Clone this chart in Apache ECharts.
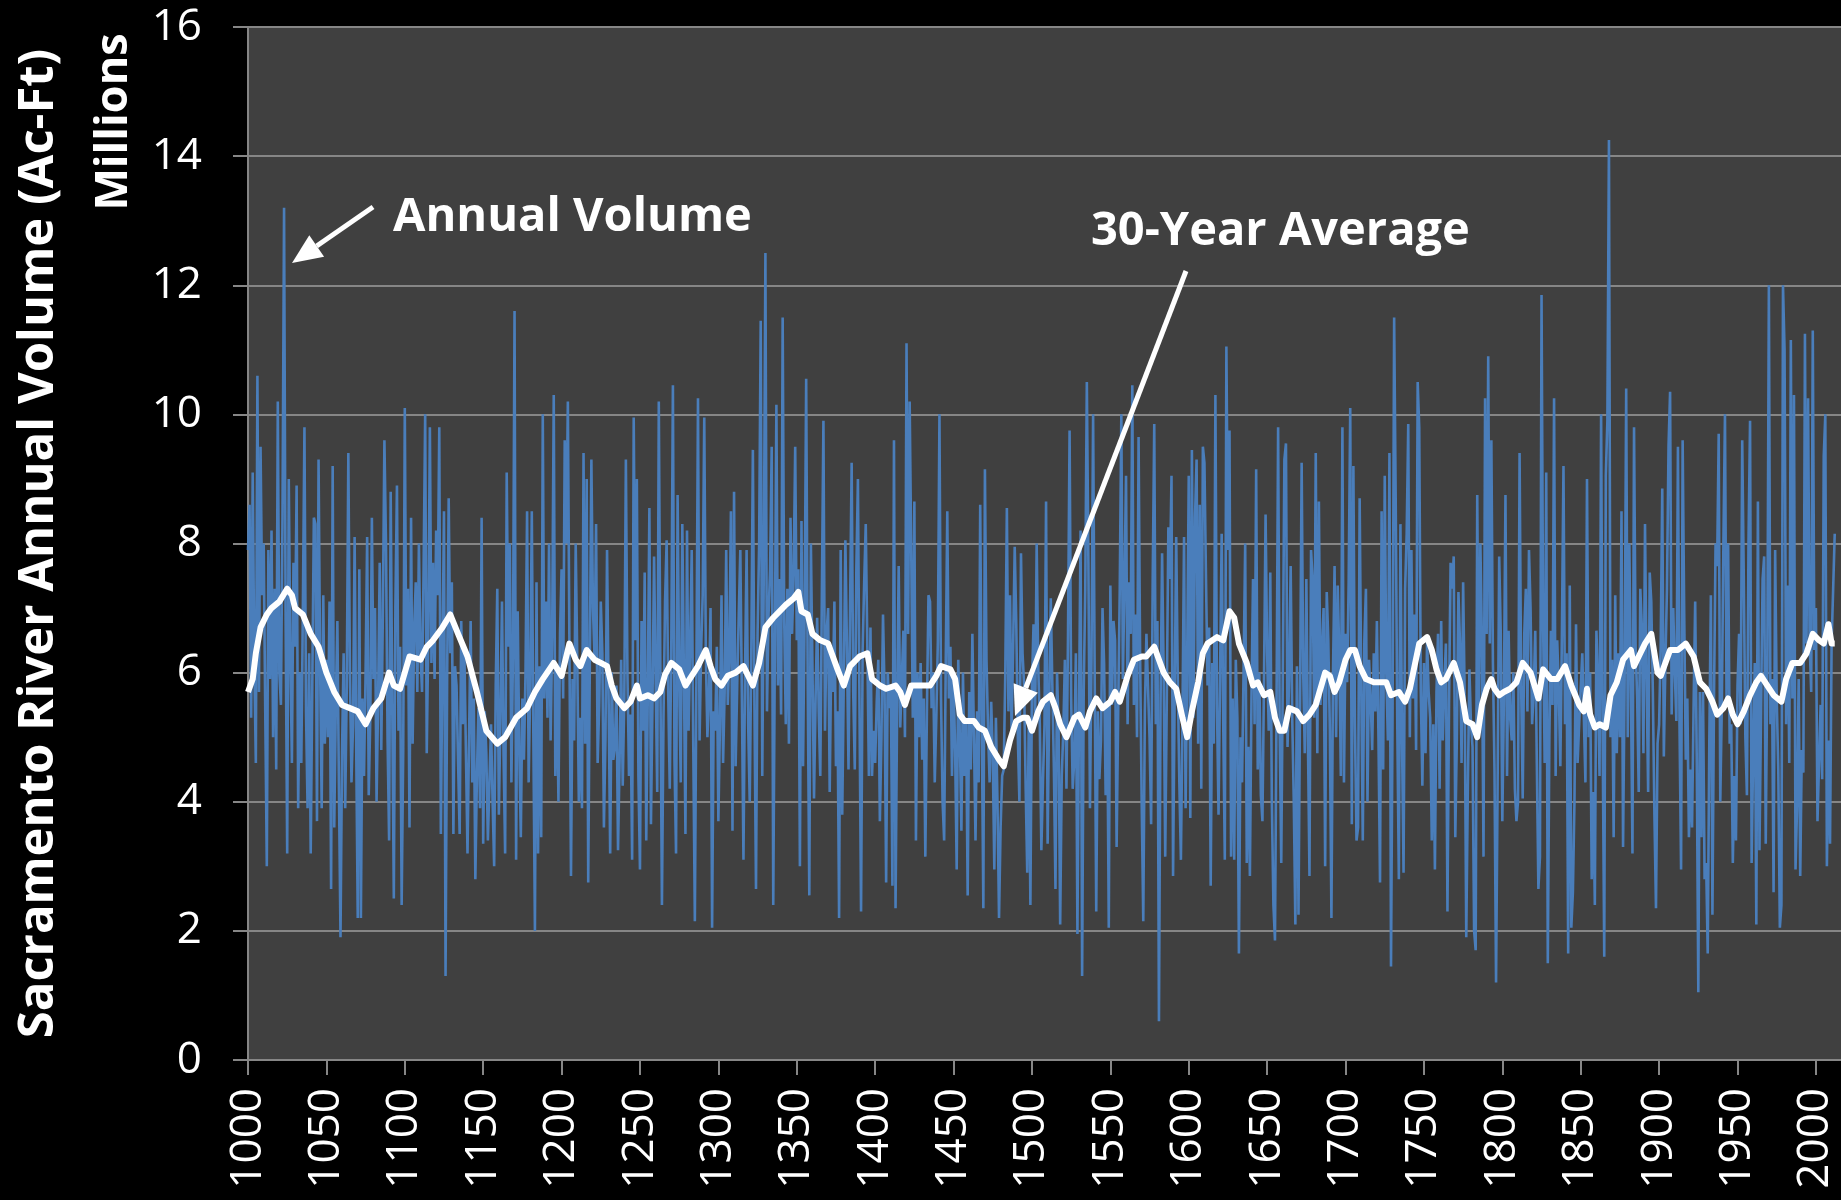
<!DOCTYPE html>
<html>
<head>
<meta charset="utf-8">
<title>Sacramento River Annual Volume</title>
<script src="https://cdn.jsdelivr.net/npm/echarts@6/dist/echarts.min.js"></script>
<style>
  html, body { margin: 0; padding: 0; background: #000; }
  #chart { width: 1841px; height: 1200px; }
</style>
</head>
<body>
<div id="chart"></div>
<script>
// annual volume, millions of acre-feet, one value per year
const vol1000 = [
  7.9, 8.6, 5.3, 9.1, 6.2, 4.6, 10.6, 5.7, 9.5, 7.2,
  8.0, 5.4, 3.0, 7.9, 5.9, 8.2, 5.0, 7.3, 4.5, 10.2,
  6.0, 5.5, 8.4, 13.2, 6.8, 3.2, 9.0, 6.3, 4.6, 7.7,
  6.4, 8.9, 3.9, 6.0, 4.6, 7.0, 9.8, 5.4, 3.9, 6.3,
  3.2, 5.8, 8.4, 8.3, 3.7, 9.3, 6.1, 3.9, 7.2, 4.9,
  6.2, 5.0, 7.1, 2.65, 9.2, 3.6, 5.5, 6.8, 4.2, 1.9,
  4.8, 6.3, 3.9, 5.8, 9.4, 6.0, 4.3, 5.2, 8.1, 4.9,
  2.2, 7.6, 2.2, 5.6, 4.4, 6.0, 8.1, 4.1, 5.3, 8.4,
  5.9, 7.0, 4.0, 5.6, 7.7, 4.8, 6.9, 9.6, 8.0, 5.0,
  3.4, 8.8, 5.5, 2.5, 7.0, 8.9, 5.1, 6.4, 2.4, 4.8
];
const vol1100 = [
  10.1, 5.8, 7.3, 3.6, 8.4, 4.9, 6.7, 7.4, 5.7, 8.0,
  6.3, 5.7, 7.6, 10.0, 4.75, 6.6, 9.8, 6.15, 7.7, 5.9,
  8.2, 7.2, 9.8, 3.5, 6.2, 8.5, 1.3, 5.9, 8.7, 6.3,
  7.4, 3.5, 6.1, 5.8, 4.6, 3.5, 6.8, 5.2, 6.3, 4.75,
  3.2, 5.0, 6.8, 4.3, 5.6, 2.8, 4.4, 5.45, 3.9, 8.4,
  3.35, 5.4, 4.75, 3.4, 4.3, 5.2, 4.0, 3.0, 5.8, 7.3,
  3.8, 5.3, 7.1, 4.7, 3.2, 9.1, 6.4, 8.0, 4.3, 6.3,
  11.6, 3.1, 6.95, 4.85, 3.45, 5.6, 4.65, 6.0, 8.5, 4.3,
  5.8, 8.5, 5.0, 2.0, 7.4, 3.2, 6.1, 3.45, 10.0, 5.6,
  7.1, 5.3, 8.0, 4.95, 6.6, 10.3, 4.4, 6.0, 4.0, 6.6
];
const vol1200 = [
  7.6, 5.6, 9.6, 8.0, 10.2, 6.4, 2.85, 5.9, 4.95, 8.0,
  6.2, 4.0, 5.3, 3.9, 9.4, 4.9, 9.0, 2.75, 6.1, 9.3,
  7.0, 6.25, 8.3, 4.6, 5.5, 7.1, 6.3, 3.6, 5.0, 7.9,
  5.6, 3.2, 6.0, 4.65, 4.85, 5.8, 3.25, 4.65, 6.2, 4.25,
  5.6, 9.3, 6.0, 4.4, 5.35, 3.1, 9.95, 6.5, 9.0, 4.4,
  2.95, 6.8, 5.1, 7.55, 3.4, 5.7, 8.55, 3.65, 5.6, 7.8,
  5.9, 4.15, 10.2, 6.0, 2.4, 5.3, 7.1, 8.05, 5.7, 4.2,
  6.5, 10.45, 4.65, 3.2, 8.75, 5.9, 4.3, 8.3, 6.0, 3.5,
  8.2, 5.1, 6.4, 7.9, 4.85, 2.15, 6.0, 10.25, 4.95, 6.35,
  7.2, 9.95, 6.3, 5.0, 5.65, 7.0, 2.05, 5.4, 5.1, 6.4
];
const vol1300 = [
  3.7, 5.2, 7.2, 4.6, 5.7, 7.9, 5.5, 6.3, 8.5, 3.55,
  8.8, 4.55, 5.8, 6.9, 7.9, 5.6, 3.1, 6.0, 7.9, 5.2,
  4.0, 6.3, 9.45, 5.5, 2.65, 6.6, 8.0, 11.45, 4.4, 7.7,
  12.5, 5.4, 6.9, 7.6, 9.5, 2.4, 6.3, 10.15, 5.8, 7.45,
  5.35, 11.5, 6.8, 5.2, 7.3, 4.9, 8.4, 6.6, 7.5, 9.5,
  6.5, 7.6, 3.0, 8.35, 4.55, 6.9, 10.55, 5.8, 2.55, 8.0,
  6.1, 4.05, 5.6, 6.85, 5.4, 4.4, 7.2, 9.9, 5.1, 6.6,
  7.0, 4.15, 6.3, 5.7, 7.1, 4.55, 5.4, 2.2, 7.9, 3.8,
  5.9, 8.05, 6.4, 4.5, 7.0, 9.25, 5.7, 4.5, 7.6, 9.0,
  5.5, 2.3, 6.35, 7.4, 8.3, 6.4, 4.4, 6.7, 4.4, 5.1
];
const vol1400 = [
  4.6, 5.55, 6.2, 3.7, 5.0, 6.9, 5.7, 2.75, 6.0, 5.45,
  5.8, 2.7, 9.6, 2.35, 5.5, 7.65, 5.15, 5.9, 6.65, 5.0,
  11.1, 6.6, 10.2, 7.9, 5.3, 8.65, 3.4, 6.0, 5.0, 6.15,
  4.65, 5.6, 3.15, 5.4, 7.2, 7.1, 5.45, 6.0, 4.3, 5.3,
  6.5, 10.0, 5.6, 4.0, 3.4, 6.1, 8.5, 5.6, 6.4, 4.4,
  5.9, 4.8, 2.95, 6.2, 5.0, 3.55, 6.0, 4.4, 5.3, 2.55,
  5.7, 4.5, 6.6, 5.0, 3.4, 5.4, 4.3, 8.6, 5.2, 2.35,
  9.15, 6.2, 5.1, 4.3, 5.55, 4.7, 2.95, 5.3, 4.0, 2.2,
  3.6, 4.4, 4.5, 6.0, 8.55, 5.4, 7.2, 5.1, 6.4, 7.95,
  6.75, 5.0, 4.0, 7.85, 6.3, 5.8, 4.2, 2.9, 5.3, 2.4
];
const vol1500 = [
  5.8, 6.75, 5.2, 8.0, 6.1, 5.2, 3.25, 4.3, 5.2, 8.65,
  3.35, 5.5, 7.15, 5.8, 4.5, 2.65, 6.0, 5.1, 2.1, 4.4,
  5.1, 6.2, 4.2, 6.6, 9.75, 5.6, 4.2, 4.65, 6.3, 1.95,
  5.4, 8.2, 1.3, 5.7, 7.3, 10.5, 7.7, 3.9, 6.3, 10.0,
  6.0, 2.3, 5.4, 4.35, 4.95, 7.0, 6.15, 4.1, 5.5, 2.05,
  7.35, 5.5, 6.8, 6.5, 3.3, 5.4, 7.3, 10.0, 5.9, 7.35,
  9.05, 5.2, 7.4, 6.6, 10.45, 5.5, 6.9, 5.0, 9.65, 6.2,
  3.95, 2.15, 5.4, 6.6, 6.6, 5.0, 3.65, 7.4, 9.85, 5.2,
  6.8, 0.6, 5.5, 7.85, 6.0, 3.15, 5.6, 8.25, 7.45, 9.05,
  2.85, 5.6, 8.1, 5.9, 4.3, 3.1, 5.3, 8.1, 3.9, 6.2
];
const vol1600 = [
  9.05, 3.75, 9.45, 5.3, 8.4, 9.3, 4.9, 8.6, 4.2, 9.5,
  9.25, 7.45, 5.8, 6.7, 2.7, 6.15, 4.9, 10.3, 5.5, 3.8,
  6.0, 8.15, 5.2, 3.1, 11.05, 7.9, 9.75, 3.15, 5.6, 3.1,
  6.2, 5.3, 1.65, 5.0, 4.3, 6.1, 8.0, 3.05, 4.85, 2.85,
  5.6, 7.45, 5.2, 9.15, 4.5, 6.0, 4.1, 3.7, 5.9, 8.45,
  6.3, 5.1, 7.55, 4.0, 2.4, 1.85, 5.5, 9.8, 5.1, 3.05,
  6.0, 9.3, 9.55, 4.85, 5.9, 7.65, 5.3, 4.0, 2.1, 6.1,
  2.25, 5.6, 9.25, 6.0, 4.75, 7.45, 5.0, 2.85, 7.9, 7.45,
  5.3, 9.4, 4.75, 8.65, 5.5, 6.35, 7.0, 3.0, 7.25, 6.5,
  5.1, 2.2, 6.0, 7.65, 5.0, 7.35, 6.3, 4.4, 9.8, 4.3
];
const vol1700 = [
  6.6, 5.85, 7.4, 10.1, 3.65, 9.2, 5.2, 3.4, 3.6, 8.7,
  5.8, 3.4, 6.5, 7.3, 4.0, 6.2, 5.6, 4.8, 6.3, 5.4,
  6.8, 5.0, 2.75, 8.5, 4.5, 9.05, 6.0, 4.95, 9.4, 1.45,
  5.4, 11.5, 8.65, 5.2, 2.8, 8.3, 5.0, 2.9, 7.3, 8.15,
  9.85, 5.0, 7.9, 5.6, 6.9, 4.8, 10.5, 9.8, 5.7, 4.25,
  6.15, 4.75, 6.5, 5.7, 5.3, 3.4, 5.2, 2.95, 5.7, 6.6,
  4.2, 6.8, 4.95, 5.8, 6.45, 2.3, 5.5, 7.7, 7.3, 7.8,
  3.45, 5.0, 7.25, 6.45, 4.6, 7.4, 5.6, 1.9, 4.2, 6.05,
  5.2, 4.85, 2.0, 1.7, 8.75, 5.1, 8.0, 6.45, 3.15, 10.25,
  6.6, 10.9, 6.45, 9.6, 6.15, 4.5, 1.2, 4.3, 7.8, 6.6
];
const vol1800 = [
  3.7, 5.6, 8.75, 4.4, 6.65, 5.3, 4.95, 6.0, 4.2, 3.7,
  4.0, 9.4, 5.8, 4.05, 6.6, 7.3, 5.4, 7.9, 7.0, 5.2,
  5.7, 6.65, 4.6, 2.65, 3.15, 11.85, 6.8, 4.6, 9.1, 1.5,
  5.0, 6.65, 5.5, 10.25, 4.4, 6.5, 5.75, 4.55, 6.6, 9.2,
  5.2, 6.3, 1.65, 7.35, 2.05, 2.6, 4.0, 6.75, 4.6, 5.2,
  5.2, 6.3, 5.3, 4.3, 9.0, 5.0, 6.0, 2.8, 4.15, 2.4,
  6.65, 5.85, 4.4, 10.0, 5.0, 1.6, 9.05, 9.9, 14.25, 5.0,
  6.2, 3.45, 7.2, 4.75, 6.3, 5.0, 8.5, 3.3, 5.9, 10.4,
  5.0, 8.0, 5.8, 3.2, 9.8, 6.4, 5.6, 4.15, 7.3, 6.7,
  4.75, 8.3, 5.9, 4.15, 7.55, 7.1, 5.7, 3.8, 2.35, 4.9
];
const vol1900 = [
  5.2, 6.4, 8.85, 4.7, 6.15, 7.3, 9.5, 10.35, 5.35, 7.0,
  6.0, 5.25, 9.5, 5.2, 2.95, 9.6, 6.9, 4.65, 5.6, 3.45,
  4.5, 3.6, 5.5, 7.1, 4.65, 1.05, 5.7, 3.45, 5.7, 2.8,
  3.05, 1.65, 4.9, 7.2, 2.25, 5.6, 8.0, 7.65, 9.7, 4.0,
  5.5, 8.0, 10.0, 5.6, 8.0, 4.9, 5.2, 3.05, 4.4, 3.4,
  5.8, 6.6, 5.2, 9.6, 7.45, 5.0, 4.1, 8.0, 9.9, 3.05,
  4.8, 6.15, 2.1, 8.65, 3.25, 5.4, 7.45, 7.8, 3.35, 6.1,
  12.0, 5.2, 5.9, 2.6, 7.9, 5.6, 4.5, 2.05, 2.4, 12.0,
  11.0, 5.2, 7.35, 4.6, 11.15, 5.6, 10.3, 2.95, 3.95, 5.9,
  2.85, 4.8, 4.45, 11.25, 6.45, 10.25, 6.45, 5.7, 11.3, 6.35
];
const vol2000 = [7.0, 3.7, 3.7, 5.5, 4.35, 9.35, 10.0, 3.0, 4.95, 3.35, 6.45, 7.3, 8.15];

// 30-year average, [year, value]
const avg1000 = [
  [1000, 5.7], [1003, 5.9], [1005, 6.3], [1008, 6.7], [1012, 6.9], [1015, 7.0], [1020, 7.1],
  [1025, 7.3], [1028, 7.2], [1030, 7.0], [1035, 6.9], [1040, 6.6], [1045, 6.4], [1050, 6.0],
  [1055, 5.7], [1060, 5.5], [1065, 5.45], [1070, 5.4], [1075, 5.2], [1080, 5.45], [1085, 5.6],
  [1090, 6.0], [1093, 5.8], [1097, 5.75]
];
const avg1100 = [
  [1100, 6.0], [1103, 6.25], [1110, 6.2], [1114, 6.4], [1118, 6.5], [1124, 6.7], [1129, 6.9],
  [1134, 6.6], [1140, 6.25], [1146, 5.7], [1152, 5.1], [1159, 4.9], [1164, 5.0], [1171, 5.3],
  [1178, 5.45], [1183, 5.7], [1188, 5.9], [1195, 6.15]
];
const avg1200 = [
  [1200, 5.95], [1205, 6.45], [1209, 6.2], [1212, 6.1], [1216, 6.35], [1221, 6.2], [1225, 6.15],
  [1229, 6.1], [1232, 5.8], [1235, 5.6], [1240, 5.45], [1244, 5.55], [1248, 5.8], [1250, 5.6],
  [1255, 5.65], [1259, 5.6], [1263, 5.7], [1266, 5.97], [1270, 6.15], [1275, 6.05], [1279, 5.8],
  [1283, 5.95], [1287, 6.1], [1292, 6.35], [1295, 6.1], [1298, 5.9]
];
const avg1300 = [
  [1300, 5.85], [1302, 5.8], [1306, 5.95], [1311, 6.0], [1316, 6.1], [1322, 5.8], [1326, 6.15],
  [1330, 6.7], [1335, 6.85], [1339, 6.95], [1343, 7.05], [1348, 7.15], [1351, 7.25], [1353, 6.95],
  [1357, 6.9], [1360, 6.6], [1365, 6.5], [1370, 6.45], [1373, 6.25], [1376, 6.05], [1380, 5.8],
  [1384, 6.1], [1390, 6.25], [1395, 6.3], [1398, 5.9]
];
const avg1400 = [
  [1403, 5.8], [1407, 5.75], [1413, 5.8], [1416, 5.7], [1419, 5.5], [1423, 5.8], [1429, 5.8],
  [1435, 5.8], [1439, 5.95], [1442, 6.1], [1448, 6.05], [1451, 5.9], [1454, 5.35], [1457, 5.25],
  [1463, 5.25], [1466, 5.15], [1470, 5.1], [1474, 4.85], [1479, 4.65], [1482, 4.55], [1486, 4.95],
  [1490, 5.25], [1494, 5.3], [1497, 5.3]
];
const avg1500 = [
  [1500, 5.1], [1504, 5.4], [1507, 5.55], [1512, 5.65], [1515, 5.45], [1518, 5.2], [1522, 5.0],
  [1527, 5.3], [1530, 5.35], [1534, 5.15], [1537, 5.4], [1541, 5.6], [1545, 5.45], [1550, 5.55],
  [1553, 5.7], [1556, 5.55], [1561, 5.95], [1565, 6.2], [1570, 6.25], [1573, 6.25], [1578, 6.4],
  [1581, 6.2], [1584, 6.0], [1588, 5.85], [1592, 5.75], [1596, 5.3], [1599, 5.0]
];
const avg1600 = [
  [1602, 5.4], [1606, 5.85], [1609, 6.3], [1612, 6.45], [1618, 6.55], [1622, 6.5], [1626, 6.95],
  [1629, 6.85], [1632, 6.45], [1637, 6.15], [1641, 5.8], [1644, 5.85], [1648, 5.65], [1652, 5.7],
  [1655, 5.3], [1658, 5.1], [1661, 5.1], [1664, 5.45], [1669, 5.4], [1673, 5.25], [1677, 5.35],
  [1681, 5.5], [1687, 6.0], [1690, 5.95], [1693, 5.7], [1696, 5.85]
];
const avg1700 = [
  [1700, 6.2], [1703, 6.35], [1706, 6.35], [1709, 6.1], [1713, 5.9], [1718, 5.85], [1722, 5.85],
  [1726, 5.85], [1729, 5.65], [1734, 5.7], [1738, 5.55], [1741, 5.75], [1744, 6.1], [1747, 6.45],
  [1752, 6.55], [1755, 6.35], [1758, 6.05], [1761, 5.85], [1764, 5.9], [1769, 6.15], [1773, 5.85],
  [1777, 5.25], [1781, 5.2], [1784, 5.0], [1787, 5.5], [1790, 5.75], [1793, 5.9], [1795, 5.75],
  [1798, 5.65]
];
const avg1800 = [
  [1801, 5.7], [1805, 5.75], [1809, 5.85], [1813, 6.15], [1818, 6.0], [1823, 5.6], [1826, 6.05],
  [1831, 5.9], [1835, 5.9], [1840, 6.1], [1844, 5.8], [1849, 5.5], [1852, 5.4], [1854, 5.75],
  [1856, 5.35], [1859, 5.15], [1862, 5.2], [1866, 5.15], [1869, 5.65], [1873, 5.85], [1877, 6.2],
  [1882, 6.35], [1884, 6.1], [1888, 6.3], [1891, 6.45], [1895, 6.6], [1899, 6.0]
];
const avg1900 = [
  [1901, 5.95], [1907, 6.35], [1912, 6.35], [1917, 6.45], [1922, 6.25], [1926, 5.85], [1930, 5.75],
  [1934, 5.55], [1937, 5.35], [1941, 5.45], [1944, 5.6], [1947, 5.35], [1950, 5.2], [1954, 5.4],
  [1958, 5.65], [1962, 5.85], [1965, 5.95], [1969, 5.8], [1973, 5.65], [1978, 5.55], [1981, 5.9],
  [1985, 6.15], [1990, 6.15], [1994, 6.3], [1998, 6.6], [2002, 6.5], [2005, 6.45], [2008, 6.75],
  [2010, 6.45], [2012, 6.45]
];

const firstYear = 1000;
const yearTicks = { min: 1000, max: 2016, step: 50 };
const volTicks = { min: 0, max: 16, step: 2 };

const annual = [].concat(vol1000, vol1100, vol1200, vol1300, vol1400, vol1500,
  vol1600, vol1700, vol1800, vol1900, vol2000).map((v, i) => [firstYear + i, v]);
const average = [].concat(avg1000, avg1100, avg1200, avg1300, avg1400, avg1500,
  avg1600, avg1700, avg1800, avg1900);

const FONT = "'Open Sans', 'Liberation Sans', sans-serif";
const GRID_COLOR = '#868686';

// white arrow: shaft plus a triangular head at (x2, y2)
function arrow(x1, y1, x2, y2) {
  const a = Math.atan2(y2 - y1, x2 - x1);
  const len = 30, half = 13;
  const bx = x2 - len * Math.cos(a), by = y2 - len * Math.sin(a);
  const nx = -Math.sin(a), ny = Math.cos(a);
  return [
    { type: 'line', shape: { x1: x1, y1: y1, x2: bx, y2: by },
      style: { stroke: '#fff', lineWidth: 5 }, z: 100 },
    { type: 'polygon',
      shape: { points: [[x2, y2], [bx + nx * half, by + ny * half], [bx - nx * half, by - ny * half]] },
      style: { fill: '#fff' }, z: 100 }
  ];
}

const chart = echarts.init(document.getElementById('chart'));
const option = {
  backgroundColor: '#000',
  animation: false,
  grid: {
    left: 248, right: 0, top: 27, bottom: 140,
    show: true, backgroundColor: '#404040', borderWidth: 0,
    containLabel: false, outerBoundsMode: 'none'
  },
  xAxis: {
    type: 'value',
    min: yearTicks.min, max: yearTicks.max, interval: yearTicks.step,
    axisLine: { show: true, lineStyle: { color: GRID_COLOR, width: 2 } },
    axisTick: { show: true, length: 15, lineStyle: { color: GRID_COLOR, width: 2 } },
    splitLine: { show: false },
    axisLabel: {
      rotate: 90, margin: 28, color: '#fff', fontSize: 44, fontFamily: FONT,
      showMaxLabel: false, formatter: v => String(v)
    }
  },
  yAxis: {
    type: 'value',
    min: volTicks.min, max: volTicks.max, interval: volTicks.step,
    name: 'Sacramento River Annual Volume (Ac-Ft)',
    nameLocation: 'middle', nameRotate: 90, nameGap: 184,
    nameTextStyle: { color: '#fff', fontSize: 49, fontWeight: 'bold', fontFamily: FONT },
    axisLine: { show: true, lineStyle: { color: GRID_COLOR, width: 2 } },
    axisTick: { show: true, length: 15, lineStyle: { color: GRID_COLOR, width: 2 } },
    splitLine: { show: true, lineStyle: { color: GRID_COLOR, width: 2 } },
    axisLabel: { margin: 46, color: '#fff', fontSize: 44, fontFamily: FONT, formatter: v => String(v) }
  },
  series: [
    {
      name: 'Annual Volume', type: 'line', data: annual,
      showSymbol: false, z: 2,
      lineStyle: { color: '#4a7ebb', width: 2.6 }
    },
    {
      name: '30-Year Average', type: 'line', data: average,
      showSymbol: false, z: 3,
      lineStyle: { color: '#fff', width: 6, join: 'round' }
    }
  ],
  graphic: [
    { type: 'text', x: 114, y: 122, rotation: Math.PI / 2, z: 100,
      style: { text: 'Millions', fill: '#fff', font: 'bold 45px ' + FONT,
               textAlign: 'center', textVerticalAlign: 'middle' } },
    { type: 'text', x: 393, y: 218, z: 100,
      style: { text: 'Annual Volume', fill: '#fff', font: 'bold 47px ' + FONT,
               textAlign: 'left', textVerticalAlign: 'middle' } },
    { type: 'text', x: 1091, y: 232, z: 100,
      style: { text: '30-Year Average', fill: '#fff', font: 'bold 47px ' + FONT,
               textAlign: 'left', textVerticalAlign: 'middle' } }
  ].concat(arrow(373, 207, 292, 263), arrow(1186, 271, 1015, 716))
};
chart.setOption(option);
</script>
</body>
</html>
